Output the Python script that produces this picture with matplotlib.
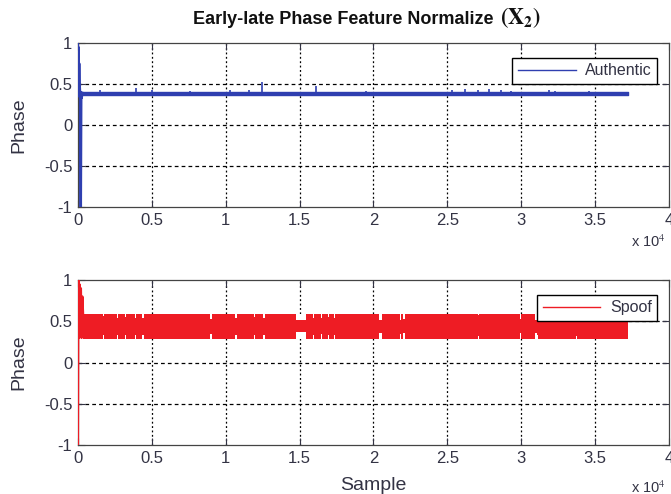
import matplotlib
matplotlib.use("Agg")
import matplotlib.pyplot as plt
from matplotlib.lines import Line2D
import numpy as np

# ---------------- data ----------------
x_ticks = [0, 5000, 10000, 15000, 20000, 25000, 30000, 35000, 40000]
x_tick_labels = ["0", "0.5", "1", "1.5", "2", "2.5", "3", "3.5", "4"]
y_ticks = [-1, -0.5, 0, 0.5, 1]
y_tick_labels = ["-1", "-0.5", "0", "0.5", "1"]

# Authentic: start-up transient samples
auth_init_x = [0, 20, 40, 60, 90, 120, 160, 200, 230, 260, 300]
auth_init_y = [1.0, 0.35, 0.95, 0.40, 0.75, 0.50, 0.35, -1.0, 0.40, 0.33, 0.39]
# Authentic: steady band (low / high envelope) and end sample
auth_band_start = 300
auth_band_end = 37200
auth_band_lo = 0.365
auth_band_hi = 0.405
# Authentic: isolated upward spikes (sample, peak)
auth_spike_x = [1500, 3940, 5020, 7600, 10300, 11560, 12480, 16090, 19500,
                25300, 26200, 27100, 27800, 28600, 29300, 31900, 32300, 34600]
auth_spike_y = [0.43, 0.45, 0.43, 0.42, 0.43, 0.43, 0.52, 0.47, 0.42,
                0.43, 0.44, 0.43, 0.44, 0.43, 0.42, 0.43, 0.42, 0.42]

# Spoof: start-up transient samples
spoof_init_x = [0, 30, 60, 100, 150, 200, 250, 300, 350]
spoof_init_y = [-1.0, 1.0, 0.30, 0.95, 0.60, 0.90, 0.30, 0.80, 0.58]
# Spoof: steady band envelope
spoof_band_start = 350
spoof_band_end = 37200
spoof_band_lo = 0.29
spoof_band_hi = 0.59
# Spoof: notches where the band is narrower (start, end, hi, lo)
notch_start = [1700, 2650, 3190, 3870, 4350, 8960, 10660, 11900, 12560,
               14740, 15890, 16430, 16900, 17300, 20400, 21800, 22000,
               27100, 29900, 30950, 31050, 33700]
notch_end = [1760, 2750, 3260, 3960, 4450, 9060, 10760, 11980, 12640,
             15420, 15960, 16520, 16980, 17380, 20550, 21900, 22150,
             27160, 30000, 31050, 31120, 33760]
notch_hi = [0.56, 0.54, 0.55, 0.54, 0.54, 0.53, 0.54, 0.55, 0.54,
            0.515, 0.54, 0.54, 0.55, 0.54, 0.52, 0.52, 0.53,
            0.58, 0.53, 0.52, 0.54, 0.58]
notch_lo = [0.33, 0.34, 0.33, 0.34, 0.34, 0.35, 0.34, 0.33, 0.34,
            0.37, 0.34, 0.35, 0.33, 0.34, 0.36, 0.35, 0.36,
            0.32, 0.36, 0.36, 0.34, 0.32]

BLUE = "#2f3fb0"
RED = "#ee1c24"

plt.rcParams["mathtext.fontset"] = "stix"

# ---------------- figure ----------------
fig = plt.figure(figsize=(6.71, 4.94), dpi=100)
ax1 = fig.add_axes([0.116, 0.581, 0.881, 0.332])
ax2 = fig.add_axes([0.116, 0.099, 0.881, 0.334])

FONT = "Liberation Sans"
TXT = "#333344"


def style_axes(ax):
    ax.set_xlim(0, 40000)
    ax.set_ylim(-1, 1)
    ax.set_xticks(x_ticks)
    ax.set_xticklabels(x_tick_labels)
    ax.set_yticks(y_ticks)
    ax.set_yticklabels(y_tick_labels)
    ax.tick_params(direction="in", length=5, width=0.8, top=True, right=True,
                   labelsize=12, colors=TXT, pad=4)
    for lab in ax.get_xticklabels() + ax.get_yticklabels():
        lab.set_family(FONT)
    for sp in ax.spines.values():
        sp.set_color("#444444")
        sp.set_linewidth(0.9)
    ax.grid(False)
    for yv in [-0.5, 0, 0.5]:
        ax.axhline(yv, color="black", lw=0.9, ls=(0, (3, 2.5)), zorder=1)
    for xv in x_ticks[1:-1]:
        ax.axvline(xv, color="black", lw=0.9, ls=(0, (1.5, 2)), zorder=1)
    ax.set_ylabel("Phase", fontsize=14, family=FONT, color=TXT, labelpad=12)


# ---- top: authentic ----
ax1.plot(auth_init_x, auth_init_y, color=BLUE, lw=1.8, zorder=3)
ax1.fill_between([auth_band_start, auth_band_end], [auth_band_lo] * 2,
                 [auth_band_hi] * 2, color=BLUE, lw=1.0, ec=BLUE, zorder=3)
ax1.vlines(auth_spike_x, auth_band_hi, auth_spike_y, color=BLUE, lw=1.2, zorder=3)
style_axes(ax1)
ax1.legend(handles=[Line2D([], [], color=BLUE, lw=1.0)], labels=["Authentic"],
           loc="upper right", bbox_to_anchor=(0.994, 0.96), fancybox=False,
           edgecolor="black", framealpha=1, handlelength=3.6,
           prop={"family": FONT, "size": 11.5}, borderpad=0.35, handletextpad=0.6)
for t in ax1.get_legend().get_texts():
    t.set_color(TXT)

# ---- bottom: spoof ----
ax2.plot(spoof_init_x, spoof_init_y, color=RED, lw=1.8, zorder=3)
ax2.fill_between([spoof_band_start, spoof_band_end], [spoof_band_lo] * 2,
                 [spoof_band_hi] * 2, color=RED, lw=0, zorder=3)
for xs, xe, hi, lo in zip(notch_start, notch_end, notch_hi, notch_lo):
    ax2.fill_between([xs, xe], [hi] * 2, [spoof_band_hi + 0.005] * 2,
                     color="white", lw=0, zorder=3.5)
    ax2.fill_between([xs, xe], [spoof_band_lo - 0.005] * 2, [lo] * 2,
                     color="white", lw=0, zorder=3.5)
style_axes(ax2)
ax2.legend(handles=[Line2D([], [], color=RED, lw=1.0)], labels=["Spoof"],
           loc="upper right", bbox_to_anchor=(0.994, 0.96), fancybox=False,
           edgecolor="black", framealpha=1, handlelength=3.6,
           prop={"family": FONT, "size": 11.5}, borderpad=0.35, handletextpad=0.6)
for t in ax2.get_legend().get_texts():
    t.set_color(TXT)
ax2.set_xlabel("Sample", fontsize=14, family=FONT, color=TXT, labelpad=8)

# x 10^4 multipliers
fig.text(0.940, 1 - 242 / 494, r"x 10$^{4}$", fontsize=10.5, family=FONT,
         color=TXT, ha="left", va="center")
fig.text(0.940, 1 - 488 / 494, r"x 10$^{4}$", fontsize=10.5, family=FONT,
         color=TXT, ha="left", va="center")

# title
fig.text(0.287, 1 - 19 / 494, "Early-late Phase Feature Normalize",
         fontsize=13, fontweight="bold", family=FONT, color="#111111",
         ha="left", va="center")
fig.text(0.745, 1 - 18 / 494, r"$\mathbf{(X_2)}$", fontsize=16,
         color="#111111", ha="left", va="center")

fig.savefig("out.png", dpi=100)
